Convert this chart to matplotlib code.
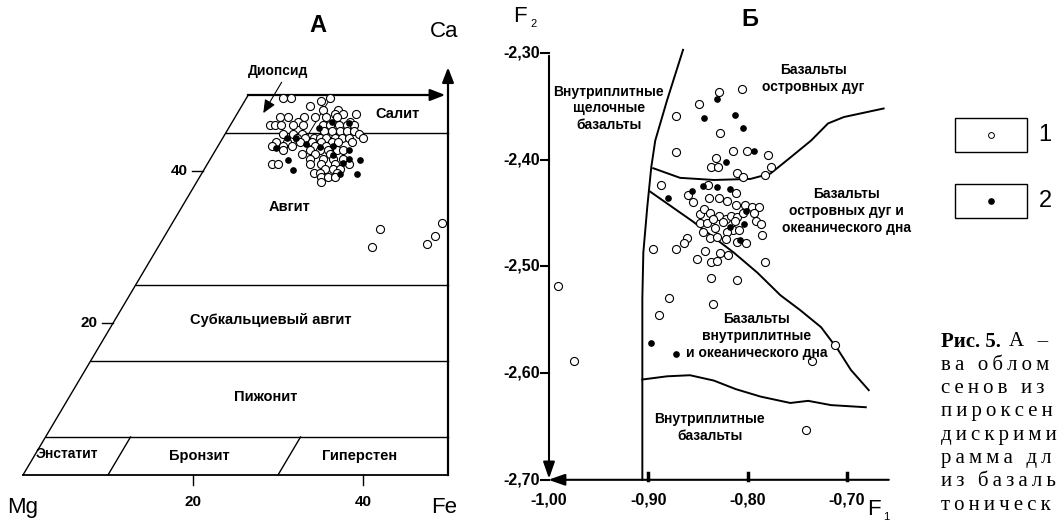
# coding: utf-8
# pyroxene quadrilateral (A) and F1-F2 discriminant diagram (B)
import numpy as np
import matplotlib
matplotlib.use("Agg")
import matplotlib.pyplot as plt
from matplotlib.patches import Rectangle

plt.rcParams['font.family'] = ['Liberation Sans', 'DejaVu Sans']

# ---------------- data, panel A (x = position on Mg-Fe scale, ca = Ca %) -------------
a_open_x = [30.6, 31.5, 36.1, 35.1, 33.8, 35.3, 37.0, 39.2, 37.7, 36.7,
            30.2, 31.2, 33.0, 34.4, 35.6, 36.9, 32.4, 38.5,
            29.0, 29.7, 30.4, 31.8, 32.9, 35.3, 36.1, 37.2, 38.1, 38.9,
            35.4, 36.3, 37.3, 38.1, 38.9, 30.6, 31.8, 32.8, 39.5,
            32.2, 33.2, 34.2, 34.9, 35.7, 36.7, 37.5, 38.3, 40.0,
            29.8, 31.0, 32.6, 34.0, 35.1, 36.3, 37.1, 38.7,
            29.3, 30.6, 31.6, 34.4, 35.7, 30.6, 33.8, 34.9, 35.9, 36.9, 37.7,
            32.8, 34.4, 36.1, 33.8, 35.3, 36.5, 37.7,
            29.3, 30.0, 33.8, 35.1, 36.7, 38.3, 35.5, 36.5, 37.3,
            34.2, 34.9, 36.9, 35.1, 35.9, 36.7, 35.1,
            42.0, 41.1, 47.5, 48.5, 49.3]
a_open_ca = [49.6, 49.6, 49.6, 49.2, 48.6, 48.0, 48.0, 47.5, 47.5, 47.5,
             47.1, 47.1, 47.1, 47.1, 47.1, 47.1, 46.5, 46.5,
             46.0, 46.0, 46.0, 46.0, 46.0, 46.0, 46.0, 46.0, 46.0, 46.0,
             45.3, 45.3, 45.3, 45.3, 45.3, 44.9, 44.9, 44.9, 44.9,
             44.4, 44.4, 44.4, 44.4, 44.4, 44.4, 44.4, 44.4, 44.4,
             43.8, 43.8, 43.8, 43.8, 43.8, 43.8, 43.8, 43.8,
             43.3, 43.3, 43.3, 43.3, 43.3, 42.7, 42.7, 42.7, 42.7, 42.7, 42.7,
             42.2, 42.2, 42.2, 41.6, 41.6, 41.6, 41.6,
             40.9, 40.9, 40.9, 40.9, 40.9, 40.9, 40.3, 40.3, 40.3,
             39.8, 39.8, 39.8, 39.2, 39.2, 39.2, 38.6,
             32.4, 30.0, 30.4, 31.4, 33.2]
a_fill_x = [34.8, 36.3, 38.4, 31.0, 32.1, 33.3, 34.9, 36.5, 38.3,
            29.8, 38.4, 39.7, 31.2, 36.5, 37.6, 37.3, 39.3, 31.8]
a_fill_ca = [45.6, 46.5, 46.3, 44.4, 44.3, 43.5, 43.2, 43.3, 42.8,
             43.0, 41.6, 41.5, 41.5, 42.1, 41.1, 39.6, 39.6, 40.1]

# field boundaries of the quadrilateral (Ca %), divisions on the base (Fe %)
ca_lines = [45, 25, 15, 5]
fe_divs = [10, 30]
fields_a = ["Салит", "Авгит", "Субкальциевый авгит", "Пижонит",
            "Энстатит", "Бронзит", "Гиперстен"]

# ---------------- data, panel B (F1, F2) ----------------
b_open_f1 = [-0.829, -0.806, -0.849, -0.872, -0.828, -0.872, -0.815, -0.801, -0.779,
             -0.832, -0.837, -0.830, -0.811, -0.805, -0.782, -0.776, -0.887, -0.860,
             -0.855, -0.840, -0.839, -0.829, -0.821, -0.812, -0.812, -0.803, -0.796,
             -0.789, -0.848, -0.844, -0.838, -0.829, -0.822, -0.817, -0.811, -0.805,
             -0.794, -0.848, -0.841, -0.835, -0.833, -0.825, -0.813, -0.815, -0.809,
             -0.821, -0.792, -0.787, -0.845, -0.838, -0.831, -0.822, -0.811, -0.802,
             -0.786, -0.861, -0.864, -0.895, -0.872, -0.843, -0.828, -0.820, -0.851,
             -0.837, -0.831, -0.782, -0.837, -0.811, -0.879, -0.835, -0.889, -0.991,
             -0.975, -0.741, -0.712, -0.735]
b_open_f2 = [-2.337, -2.334, -2.348, -2.359, -2.375, -2.393, -2.392, -2.392, -2.396,
             -2.398, -2.407, -2.407, -2.412, -2.416, -2.414, -2.407, -2.424, -2.433,
             -2.440, -2.424, -2.436, -2.436, -2.439, -2.431, -2.442, -2.442, -2.444,
             -2.444, -2.451, -2.446, -2.450, -2.453, -2.456, -2.453, -2.454, -2.450,
             -2.450, -2.459, -2.459, -2.456, -2.464, -2.458, -2.457, -2.466, -2.466,
             -2.468, -2.457, -2.460, -2.468, -2.473, -2.472, -2.474, -2.477, -2.478,
             -2.471, -2.473, -2.478, -2.484, -2.484, -2.486, -2.487, -2.489, -2.493,
             -2.496, -2.495, -2.496, -2.511, -2.513, -2.530, -2.535, -2.546, -2.518,
             -2.589, -2.653, -2.574, -2.589]
b_fill_f1 = [-0.831, -0.844, -0.813, -0.805, -0.794, -0.822, -0.845, -0.831, -0.818,
             -0.856, -0.880, -0.802, -0.804, -0.818, -0.808, -0.897, -0.872]
b_fill_f2 = [-2.343, -2.361, -2.358, -2.370, -2.392, -2.402, -2.425, -2.426, -2.427,
             -2.429, -2.436, -2.448, -2.460, -2.463, -2.475, -2.572, -2.582]

# boundary curves
c1_f1 = [-0.865, -0.881, -0.893, -0.897, -0.901, -0.905, -0.906, -0.906]
c1_f2 = [-2.297, -2.344, -2.382, -2.407, -2.444, -2.487, -2.530, -2.700]
c2_f1 = [-0.895, -0.868, -0.834, -0.797, -0.777, -0.757, -0.736, -0.719, -0.703, -0.663]
c2_f2 = [-2.408, -2.417, -2.419, -2.418, -2.413, -2.398, -2.382, -2.366, -2.360, -2.352]
c3_f1 = [-0.898, -0.855, -0.814, -0.790, -0.767, -0.747, -0.726, -0.709, -0.696, -0.678]
c3_f2 = [-2.430, -2.458, -2.487, -2.506, -2.527, -2.541, -2.557, -2.578, -2.597, -2.616]
c4_f1 = [-0.906, -0.881, -0.858, -0.834, -0.812, -0.787, -0.757, -0.739, -0.716, -0.681]
c4_f2 = [-2.606, -2.603, -2.602, -2.607, -2.615, -2.622, -2.628, -2.626, -2.630, -2.632]

x_ticks = [-1.00, -0.90, -0.80, -0.70]
y_ticks = [-2.30, -2.40, -2.50, -2.60, -2.70]

# caption lines, cut by the right page edge
cap_lines = ["ва обломочных пиро-", "сенов из песчаников", "пироксенов. Б –",
             "дискриминантная диаг-", "рамма для пироксенов", "из базальтов разных",
             "тонических обстановок"]

K = 0.53  # horizontal shift of the Mg-Ca side per Ca %


def left_x(ca):
    return K * ca


fig = plt.figure(figsize=(10.58, 5.24), dpi=100)
W, H = 1058, 524

# ======================= panel A =======================
axA = fig.add_axes([0, 0, 470 / W, 1])
axA.set_xlim(-23 / 8.5, (470 - 23) / 8.5)
axA.set_ylim((475 - 524) / 7.6, 475 / 7.6)
axA.axis('off')
lw = 1.0
axA.plot([left_x(0), 50], [0, 0], color='k', lw=1.3)
axA.plot([left_x(0), left_x(50)], [0, 50], color='k', lw=lw)
axA.plot([50, 50], [0, 52], color='k', lw=1.6)
axA.annotate('', xy=(50, 54.0), xytext=(50, 51.5),
             arrowprops=dict(arrowstyle='-|>,head_length=0.9,head_width=0.35', color='k', lw=1.6))
axA.plot([left_x(50), 48.5], [50, 50], color='k', lw=1.6)
axA.annotate('', xy=(50, 50), xytext=(47.5, 50),
             arrowprops=dict(arrowstyle='-|>,head_length=0.9,head_width=0.35', color='k', lw=1.6))
for c in ca_lines:
    axA.plot([left_x(c), 50], [c, c], color='k', lw=lw)
for fe in fe_divs:
    axA.plot([fe, fe + K * 5], [0, 5], color='k', lw=lw)
axA.plot([33.5, 36.4], [44.7, 50.0], color='k', lw=0.7)
# ticks
for t in [20, 40]:
    axA.plot([t, t], [0, -1.3], color='k', lw=1.0)
    axA.text(t, -3.6, str(t), ha='center', va='center', fontsize=11, fontweight='bold')
    axA.plot([left_x(t) - 1.3, left_x(t)], [t, t], color='k', lw=1.0)
    axA.text(left_x(t) - 1.8, t, str(t), ha='right', va='center', fontsize=11, fontweight='bold')

axA.text(34.7, 59.2, "А", ha='center', va='center', fontsize=17, fontweight='bold')
axA.text(49.6, 58.3, "Ca", ha='center', va='center', fontsize=16)
axA.text(-0.1, -4.3, "Mg", ha='center', va='center', fontsize=16)
axA.text(49.6, -4.3, "Fe", ha='center', va='center', fontsize=16)

axA.text(30.0, 53.2, "Диопсид", ha='center', va='center', fontsize=10, fontweight='bold')
axA.annotate('', xy=(28.1, 47.3), xytext=(30.6, 52.0),
             arrowprops=dict(arrowstyle='-|>,head_length=0.8,head_width=0.35', color='k', lw=0.8))
lab_pos = [(44.0, 47.5), (31.3, 35.3), (29.1, 20.4), (28.6, 10.3),
           (5.2, 2.8), (20.8, 2.5), (39.6, 2.5)]
for name, (x, y) in zip(fields_a, lab_pos):
    fs = 10 if name == "Энстатит" else 10.5
    axA.text(x, y, name, ha='center', va='center', fontsize=fs, fontweight='bold')

axA.plot(a_open_x, a_open_ca, 'o', ms=5.8, mfc='white', mec='k', mew=0.8, clip_on=False)
axA.plot(a_fill_x, a_fill_ca, 'o', ms=3.8, mfc='k', mec='k', clip_on=False)

# ======================= panel B =======================
x0, x1 = 480, 935
axB = fig.add_axes([x0 / W, 0, (x1 - x0) / W, 1])
axB.set_xlim(-1 + (x0 - 549) / 993, -1 + (x1 - 549) / 993)
axB.set_ylim(-2.30 - (524 - 53) / 1067, -2.30 + 53 / 1067)
axB.axis('off')

axB.annotate('', xy=(-1.0, -2.7015), xytext=(-1.0, -2.30),
             arrowprops=dict(arrowstyle='-|>,head_length=1.0,head_width=0.35', color='k', lw=1.5))
axB.annotate('', xy=(-1.0035, -2.70), xytext=(-0.655, -2.70),
             arrowprops=dict(arrowstyle='-|>,head_length=1.0,head_width=0.35', color='k', lw=1.5))
for t in y_ticks:
    axB.plot([-1.008, -1.0], [t, t], color='k', lw=1.5)
    axB.text(-1.009, t, ("%.2f" % t).replace('.', ','), ha='right', va='center',
             fontsize=11.5, fontweight='bold')
for t in x_ticks:
    if t > -1.0:
        axB.plot([t, t], [-2.70, -2.694], color='k', lw=2.5)
    axB.text(t, -2.719, ("%.2f" % t).replace('.', ','), ha='center', va='center',
             fontsize=11.5, fontweight='bold')

axB.text(-0.798, -2.269, "Б", ha='center', va='center', fontsize=17, fontweight='bold')
axB.text(-1.029, -2.266, "F", ha='center', va='center', fontsize=16)
axB.text(-1.016, -2.273, "2", ha='center', va='center', fontsize=8)
axB.text(-0.673, -2.728, "F", ha='center', va='center', fontsize=16)
axB.text(-0.660, -2.735, "1", ha='center', va='center', fontsize=8)

for cx, cy in [(c1_f1, c1_f2), (c2_f1, c2_f2), (c3_f1, c3_f2), (c4_f1, c4_f2)]:
    axB.plot(cx, cy, color='k', lw=1.4, clip_on=False)

fields_b = [("Внутриплитные\nщелочные\nбазальты", -0.940, -2.352),
            ("Базальты\nостровных дуг", -0.734, -2.324),
            ("Базальты\nостровных дуг и\nокеанического дна", -0.700, -2.448),
            ("Базальты\nвнутриплитные\nи океанического дна", -0.791, -2.565),
            ("Внутриплитные\nбазальты", -0.838, -2.651)]
for name, x, y in fields_b:
    axB.text(x, y, name, ha='center', va='center', fontsize=10, fontweight='bold',
             linespacing=1.25)

axB.plot(b_open_f1, b_open_f2, 'o', ms=5.8, mfc='white', mec='k', mew=0.8, clip_on=False)
axB.plot(b_fill_f1, b_fill_f2, 'o', ms=3.8, mfc='k', mec='k', clip_on=False)

# ======================= legend =======================
lax = fig.add_axes([0, 0, 1, 1], facecolor='none')
lax.set_xlim(0, W)
lax.set_ylim(H, 0)
lax.axis('off')
for i, (yc, filled) in enumerate([(135, False), (201, True)]):
    lax.add_patch(Rectangle((955, yc - 17), 72, 34, fill=False, ec='k', lw=1.0))
    lax.text(1045, yc, str(i + 1), ha='center', va='center', fontsize=17)
lax.plot([991], [135], 'o', ms=4.2, mfc='white', mec='k', mew=0.7)
lax.plot([991], [201], 'o', ms=3.8, mfc='k', mec='k')

# ======================= caption (cut by the page edge) =======================
serif = ['Liberation Serif', 'DejaVu Serif']
fig.canvas.draw()
renderer = fig.canvas.get_renderer()


def fit_text(x, y, s, **kw):
    # keep only the letters that fit on the page
    t = lax.text(x, y, s, ha='left', va='center', **kw)
    while len(s) > 1 and t.get_window_extent(renderer).x1 > W - 1:
        s = s[:-1].rstrip("\u2009 ")
        t.set_text(s)
    return t


sp = "\u2009"
y_cap0, dy_cap = 342, 23.3
t0 = lax.text(941, y_cap0, "Рис. 5.", ha='left', va='center', fontsize=15,
              fontweight='bold', family=serif)
bb = t0.get_window_extent(renderer)
fit_text(bb.x1 + 8, y_cap0, sp.join("А – состав"), fontsize=15, family=serif)
for i, line in enumerate(cap_lines):
    fit_text(941, y_cap0 + dy_cap * (i + 1), sp.join(line), fontsize=15, family=serif)

fig.savefig("out.png", dpi=100)
